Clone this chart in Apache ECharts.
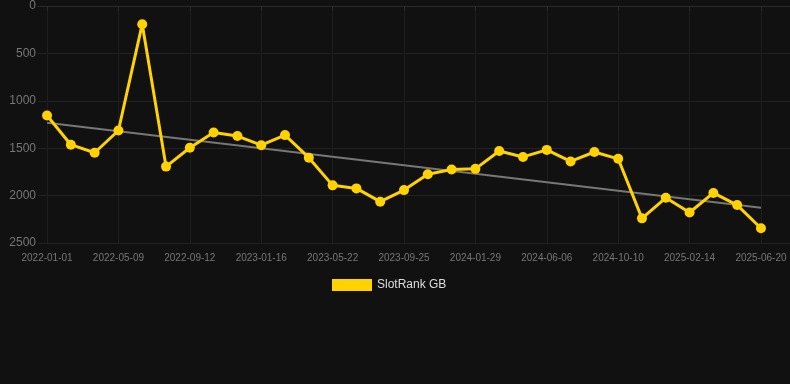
<!DOCTYPE html>
<html>
<head>
<meta charset="utf-8">
<script src="https://cdn.jsdelivr.net/npm/echarts@6/dist/echarts.min.js"></script>
<style>
html,body{margin:0;padding:0;background:#111111;}
#c{width:790px;height:384px;}
</style>
</head>
<body>
<div id="c"></div>
<script>
var dates = ['2022-01-01','2022-02-13','2022-03-27','2022-05-09','2022-06-20','2022-08-01','2022-09-12','2022-10-24','2022-12-05','2023-01-16','2023-02-27','2023-04-10','2023-05-22','2023-07-03','2023-08-14','2023-09-25','2023-11-06','2023-12-18','2024-01-29','2024-03-12','2024-04-24','2024-06-06','2024-07-18','2024-08-29','2024-10-10','2024-11-21','2025-01-02','2025-02-14','2025-03-28','2025-05-09','2025-06-20'];
var rankGB = [1155,1463,1548,1313,192,1694,1495,1334,1372,1468,1362,1600,1892,1924,2064,1942,1775,1724,1718,1530,1592,1518,1640,1540,1612,2240,2023,2178,1972,2100,2344];
var trendStart = 1232;
var trendEnd = 2128;
var seriesName = 'SlotRank GB';
var yTicks = [0, 500, 1000, 1500, 2000, 2500];
var labelEvery = 3;

var last = dates.length - 1;
var tickIdx = [];
for (var i = 0; i <= last; i += labelEvery) tickIdx.push(i);

var chart = echarts.init(document.getElementById('c'), null, {renderer:'canvas'});
chart.setOption({
  backgroundColor: '#111111',
  animation: false,
  grid: {left: 38, right: 0, top: 5, bottom: 141, containLabel: false},
  legend: {
    data: [seriesName],
    top: 274,
    left: 327,
    itemWidth: 40,
    itemHeight: 12,
    icon: 'rect',
    textStyle: {color: '#dddddd', fontSize: 12, fontFamily: 'Liberation Sans, Arial, sans-serif'}
  },
  xAxis: {
    type: 'value',
    min: -0.38,
    max: 31.22,
    axisLine: {show: true, lineStyle: {color: '#2a2a2a'}},
    axisTick: {show: true, customValues: tickIdx, lineStyle: {color: '#2a2a2a'}},
    axisLabel: {customValues: tickIdx, color: '#777777', fontSize: 10, margin: 10,
      fontFamily: 'Liberation Sans, Arial, sans-serif',
      formatter: function(v){ return dates[Math.round(v)] || ''; }},
    splitLine: {show: true, lineStyle: {color: '#1d1d1d'}}
  },
  yAxis: {
    type: 'value',
    inverse: true,
    min: yTicks[0],
    max: yTicks[yTicks.length - 1],
    interval: 500,
    axisLine: {show: false},
    axisTick: {show: false},
    axisLabel: {color: '#777777', fontSize: 12, margin: 2, fontFamily: 'Liberation Sans, Arial, sans-serif',
      formatter: function(v){ return String(v); }},
    splitLine: {show: true, lineStyle: {color: '#222222'}}
  },
  series: [
    {
      name: 'trend',
      type: 'line',
      data: [[0, trendStart], [last, trendEnd]],
      symbol: 'none',
      lineStyle: {color: '#777777', width: 2},
      silent: true,
      z: 1
    },
    {
      name: seriesName,
      type: 'line',
      data: rankGB.map(function(v, i){ return [i, v]; }),
      symbol: 'circle',
      symbolSize: 10,
      itemStyle: {color: '#ffd200'},
      lineStyle: {color: '#ffd200', width: 3},
      z: 2
    }
  ]
});
</script>
</body>
</html>
